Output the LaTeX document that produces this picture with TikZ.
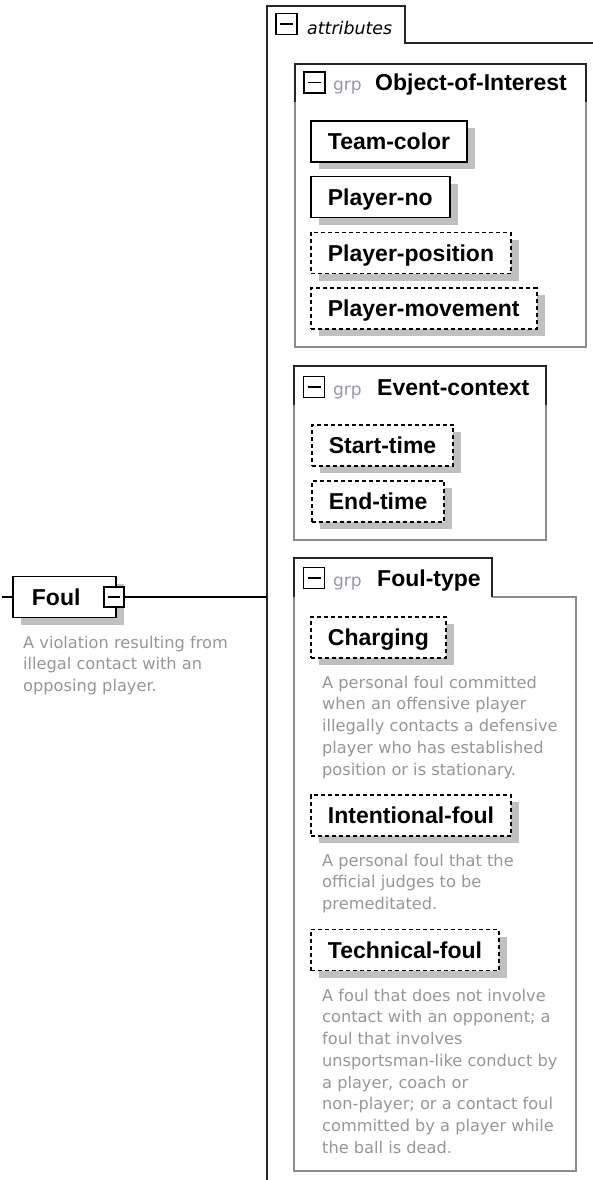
\documentclass[tikz,border=0pt]{standalone}
\usepackage{fontspec}
\setmainfont{Liberation Sans}
\newfontfamily\descfont{DejaVu Sans}
\usetikzlibrary{shadows}
\definecolor{desctext}{RGB}{150,150,150}
\definecolor{grptext}{RGB}{150,150,165}
\definecolor{bodyline}{RGB}{140,140,140}
\definecolor{shade}{RGB}{192,192,192}
\begin{document}
\begin{tikzpicture}[x=1pt, y=-1pt, every node/.style={inner sep=0pt},
  elem/.style={draw, line width=1.8pt, fill=white, anchor=west, inner xsep=17pt, minimum height=41pt, text height=20pt, text depth=3.5pt, font=\fontsize{23}{27}\selectfont\bfseries, drop shadow={fill=shade, opacity=1, shadow xshift=8pt, shadow yshift=-7pt}},
  optelem/.style={elem, dash pattern=on 4pt off 3pt},
  minus/.style={draw, line width=1.5pt, fill=white, minimum size=20pt, path picture={\draw[line width=1.5pt] ([xshift=4pt]path picture bounding box.west) -- ([xshift=-4pt]path picture bounding box.east);}},
  note/.style={anchor=north west, align=left, text=desctext, font=\descfont\fontsize{16.2}{21.75}\selectfont},
  grplabel/.style={anchor=base west, text=grptext, font=\descfont\fontsize{17}{20}\selectfont},
  grpname/.style={anchor=base west, font=\fontsize{23}{27}\selectfont\bfseries},
  darkline/.style={line width=1.8pt, black!85},
  greyline/.style={line width=1.8pt, bodyline}]
\useasboundingbox (0,0) rectangle (593,1180);
% attributes container
\draw[darkline] (267,1180) -- (267,6) -- (405,6) -- (405,43) -- (593,43);
\node[minus, minimum size=21pt, line width=1.8pt] (attmin) at (286.5,24) {};
\node[anchor=base west, font=\descfont\itshape\fontsize{17.4}{20}\selectfont] (attname) at (307,35) {attributes};
% group boxes
\draw[greyline] (295,102) -- (295,347) -- (586,347) -- (586,102);
\draw[darkline] (295,102) -- (295,64) -- (586,64) -- (586,102);
\draw[greyline] (294,405) -- (294,540) -- (546,540) -- (546,405);
\draw[darkline] (294,405) -- (294,366) -- (546,366) -- (546,405);
\draw[greyline] (294,597) -- (294,1171) -- (576,1171) -- (576,597) -- (492,597);
\draw[darkline] (294,597) -- (294,558) -- (492,558) -- (492,597);
\node[minus, minimum size=21pt, line width=1.8pt] (objmin) at (314.5,82.5) {};
\node[grplabel] (objgrp) at (333,91) {grp};
\node[grpname] (objname) at (375,91) {Object-of-Interest};
\node[minus, minimum size=21pt, line width=1.8pt] (evtmin) at (314,387) {};
\node[grplabel] (evtgrp) at (333,395.5) {grp};
\node[grpname] (evtname) at (377,395.5) {Event-context};
\node[minus, minimum size=21pt, line width=1.8pt] (typmin) at (314,578) {};
\node[grplabel] (typgrp) at (333,586.5) {grp};
\node[grpname] (typname) at (377,586.5) {Foul-type};
% elements
\node[elem] (teamcolor) at (310,141.5) {Team-color};
\node[elem] (playerno) at (310,197) {Player-no};
\node[optelem] (playerpos) at (310,253) {Player-position};
\node[optelem] (playermov) at (310,308.5) {Player-movement};
\node[optelem] (starttime) at (311,445.5) {Start-time};
\node[optelem] (endtime) at (311,501.5) {End-time};
\node[optelem] (charging) at (310,637.5) {Charging};
\node[note] (chargingdesc) at (322,675.7) {A personal foul committed\\when an offensive player\\illegally contacts a defensive\\player who has established\\position or is stationary.};
\node[optelem] (intentional) at (310,815.5) {Intentional-foul};
\node[note] (intentionaldesc) at (322,853.7) {A personal foul that the\\official judges to be\\premeditated.};
\node[optelem] (technical) at (310,950) {Technical-foul};
\node[note] (technicaldesc) at (322,988.7) {A foul that does not involve\\contact with an opponent; a\\foul that involves\\unsportsman-like conduct by\\a player, coach or\\non-player; or a contact foul\\committed by a player while\\the ball is dead.};
% root element
\node[elem, minimum width=103pt, text width=65pt, align=left] (foul) at (12,597) {Foul};
\node[minus] (foulmin) at (114,597) {};
\node[note] (fouldesc) at (23,635.7) {A violation resulting from\\illegal contact with an\\opposing player.};
\coordinate (stub) at (2,597);
\coordinate (spine) at (267,597);
\draw[line width=1.6pt] (stub) -- (foul.west);
\draw[line width=1.6pt] (foulmin.east) -- (spine);
\end{tikzpicture}
\end{document}
